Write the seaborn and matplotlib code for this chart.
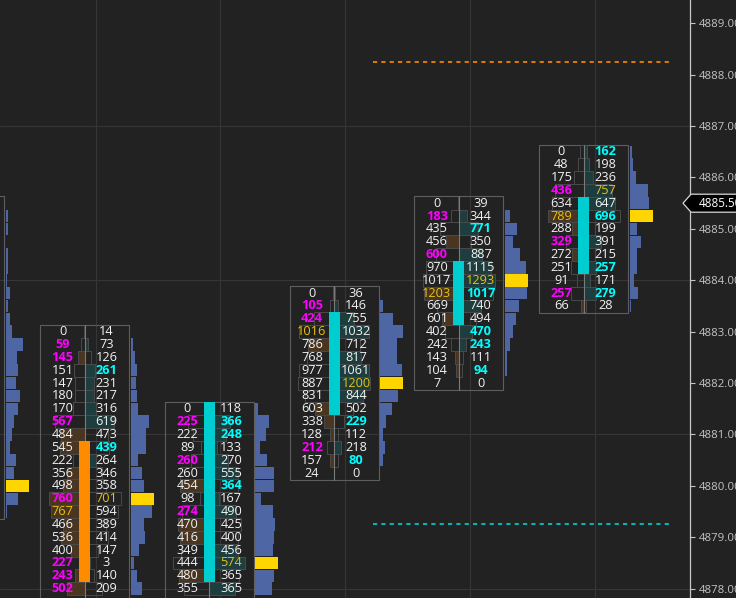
import numpy as np
import pandas as pd
import matplotlib
matplotlib.use("Agg")
import matplotlib.pyplot as plt
import matplotlib.transforms as mtransforms
from matplotlib.patches import Rectangle, Polygon
import seaborn as sns

# ---------------- data ----------------
TICK = 0.25
bar_index = [0, 1, 2, 3, 4, 5]
bar_high = [4885.5, 4883.0, 4881.5, 4883.75, 4885.5, 4886.5]
bar_low = [4879.5, 4877.5, 4877.5, 4880.25, 4882.0, 4883.5]   # bars 1-2 continue below the view
bar_open = [None, 4880.75, 4878.25, 4881.5, 4883.25, 4884.25]
bar_close = [None, 4878.25, 4881.5, 4883.25, 4884.25, 4885.5]

# bar 0 is only partly visible: profile volumes (estimated), top to bottom from 4885.50
vol0 = [18, 122, 164, 18, 164, 122, 103, 286, 122, 243, 365, 1035, 670, 730,
        609, 852, 730, 487, 365, 243, 609, 487, 1400, 730, 61]

bid1 = [0, 59, 145, 151, 147, 180, 170, 567, 484, 545, 222, 356, 498, 760, 767, 466, 536, 400, 227, 243, 502]
ask1 = [14, 73, 126, 261, 231, 217, 316, 619, 473, 439, 264, 346, 358, 701, 594, 389, 414, 147, 3, 140, 209]
bid2 = [0, 225, 222, 89, 260, 260, 454, 98, 274, 470, 416, 349, 444, 480, 355]
ask2 = [118, 366, 248, 133, 270, 555, 364, 167, 490, 425, 400, 456, 574, 365, 365]
bid3 = [0, 105, 424, 1016, 786, 768, 977, 887, 831, 603, 338, 128, 212, 157, 24]
ask3 = [36, 146, 755, 1032, 712, 817, 1061, 1200, 844, 502, 229, 112, 218, 80, 0]
bid4 = [0, 183, 435, 456, 600, 970, 1017, 1203, 669, 601, 402, 242, 143, 104, 7]
ask4 = [39, 344, 771, 350, 887, 1115, 1293, 1017, 740, 494, 470, 243, 111, 94, 0]
bid5 = [0, 48, 175, 436, 634, 789, 288, 329, 272, 251, 91, 257, 66]
ask5 = [162, 198, 236, 757, 647, 696, 199, 391, 215, 257, 171, 279, 28]

bids = {1: bid1, 2: bid2, 3: bid3, 4: bid4, 5: bid5}
asks = {1: ask1, 2: ask2, 3: ask3, 4: ask4, 5: ask5}
# highest bid / ask cell of each bar (price), None when outside the view
max_bid_price = {1: 4879.5, 2: None, 3: 4883.0, 4: 4883.75, 5: 4885.25}
max_ask_price = {1: 4879.75, 2: 4878.5, 3: 4882.0, 4: 4884.0, 5: 4885.75}
IMB_RATIO = 1.5

level_prices = [4888.25, 4879.25]
level_colors = ["#ff8c00", "#00d2d8"]
last_price = 4885.50
yticks = list(np.arange(4878, 4890, 1.0))

# ---------------- style ----------------
BG = "#222222"
sns.set_theme(style="dark", rc={"axes.facecolor": BG, "figure.facecolor": BG})
plt.rcParams["font.family"] = ["Open Sans", "DejaVu Sans"]

W, H = 736, 598
AX_W = 690
PX = 1 / 124.75          # x units per pixel
x_left = (0 + 40.25) * PX
x_right = (AX_W + 40.25) * PX
y_top = 4889.4533
y_bot = 4877.819

fig = plt.figure(figsize=(W / 100, H / 100), dpi=100)
ax = fig.add_axes([0, 0, AX_W / W, 1])
ax.set_facecolor(BG)
ax.set_xlim(x_left, x_right)
ax.set_ylim(y_bot, y_top)

# grid
for g in np.arange(4878, 4890, 3.0):
    ax.axhline(g, color="#363636", lw=0.8, zorder=0)
for i in bar_index[1:]:
    ax.axvline(i + 0.09, color="#363636", lw=0.8, zorder=0)

WHITE = "#f2f2f2"
MAG = "#ff00ff"
CYAN = "#00ffff"
YEL = "#e8c30c"
FS = 9.2

def draw_profile(i, prices, totals):
    totals = np.asarray(totals, float)
    mx = totals.max()
    widths = totals / mx * 23 * PX
    cols = ["#ffd500" if t == mx else "#4e66a3" for t in totals]
    ax.barh(prices, widths, left=i + 46 * PX, height=TICK * 0.97,
            color=cols, linewidth=0, zorder=2)

for i in bar_index:
    hi, lo = bar_high[i], bar_low[i]
    # box
    ax.add_patch(Rectangle((i - 44.5 * PX, lo - 0.14), 89 * PX, hi - lo + 0.28,
                           fill=False, edgecolor="#5e5e5e", lw=0.8, zorder=1))
    if i == 0:
        prices0 = hi - TICK * np.arange(len(vol0))
        draw_profile(i, prices0, vol0)
        continue
    b = np.array(bids[i]); a = np.array(asks[i])
    prices = hi - TICK * np.arange(len(b))
    tot = b + a
    mx = tot.max()
    # delta boxes
    for p, bb, aa, t in zip(prices, b, a, tot):
        hw = t / mx * 36 * PX
        if aa > bb:
            ax.add_patch(Rectangle((i, p - TICK / 2), hw, TICK, facecolor="#1e3d3e",
                                   edgecolor="none", zorder=1))
        elif bb > aa:
            ax.add_patch(Rectangle((i - hw, p - TICK / 2), hw, TICK, facecolor="#4a3520",
                                   edgecolor="none", zorder=1))
        ax.add_patch(Rectangle((i - hw, p - TICK / 2), 2 * hw, TICK, fill=False,
                               edgecolor="#4a4a4a", lw=0.7, zorder=1.1))
    # candle
    ax.plot([i, i], [lo - 0.14, hi + 0.14], color="#7a7a7a", lw=0.8, zorder=1.5)
    o, c = bar_open[i], bar_close[i]
    body_col = "#00cdd0" if c > o else "#ff8c00"
    ax.add_patch(Rectangle((i - 5.5 * PX, min(o, c) - TICK / 2), 11 * PX,
                           abs(o - c) + TICK, facecolor=body_col, edgecolor="none", zorder=2))
    # numbers
    n = len(b)
    for k, p in enumerate(prices):
        bcol, bw = WHITE, "normal"
        if max_bid_price[i] is not None and abs(p - max_bid_price[i]) < 1e-9:
            bcol = YEL
        elif k > 0 and b[k] >= IMB_RATIO * a[k - 1] and b[k] > 0:
            bcol, bw = MAG, "bold"
        acol, aw = WHITE, "normal"
        if max_ask_price[i] is not None and abs(p - max_ask_price[i]) < 1e-9:
            acol = YEL
        elif k < n - 1 and a[k] >= IMB_RATIO * b[k + 1] and a[k] > 0:
            acol, aw = CYAN, "bold"
        ax.text(i - 22 * PX, p, str(b[k]), color=bcol, fontweight=bw, fontsize=FS,
                ha="center", va="center", zorder=3)
        ax.text(i + 22 * PX, p, str(a[k]), color=acol, fontweight=aw, fontsize=FS,
                ha="center", va="center", zorder=3)
    draw_profile(i, prices, tot)

# dashed levels
lx0 = 3 + 0.31
lx1 = x_right - 18 * PX
for lp, lc in zip(level_prices, level_colors):
    sns.lineplot(x=[lx0, lx1], y=[lp, lp], ax=ax, color=lc, lw=1.2,
                 linestyle=(0, (2.5, 2.5)), zorder=2)

# axis
ax.set_xticks([])
ax.yaxis.tick_right()
ax.set_yticks(yticks)
ax.set_yticklabels([f"{v:.2f}" for v in yticks])
ax.tick_params(axis="y", colors="#c4c4c4", length=3.5, width=0.8, pad=3,
               labelsize=8.2, right=True, left=False)
for s in ["top", "left", "bottom"]:
    ax.spines[s].set_visible(False)
ax.spines["right"].set_visible(True)
ax.spines["right"].set_color("#c8c8c8")
ax.spines["right"].set_linewidth(0.9)
ax.grid(False)

# last price marker
tr = mtransforms.blended_transform_factory(ax.transAxes, ax.transData)
h = 9 / 51.4
xt = 683 / AX_W
x1 = 691 / AX_W
xr = 745 / AX_W
poly = Polygon([(xt, last_price), (x1, last_price + h), (xr, last_price + h),
                (xr, last_price - h), (x1, last_price - h)], closed=True,
               transform=tr, facecolor="black", edgecolor="#d8d8d8", lw=0.9,
               clip_on=False, zorder=10)
ax.add_patch(poly)
ax.text(699 / AX_W, last_price, f"{last_price:.2f}", transform=tr, color="white",
        fontsize=8.4, ha="left", va="center", clip_on=False, zorder=11)

if ax.get_legend() is not None:
    ax.get_legend().remove()

fig.savefig("out.png", dpi=100, facecolor=BG)
